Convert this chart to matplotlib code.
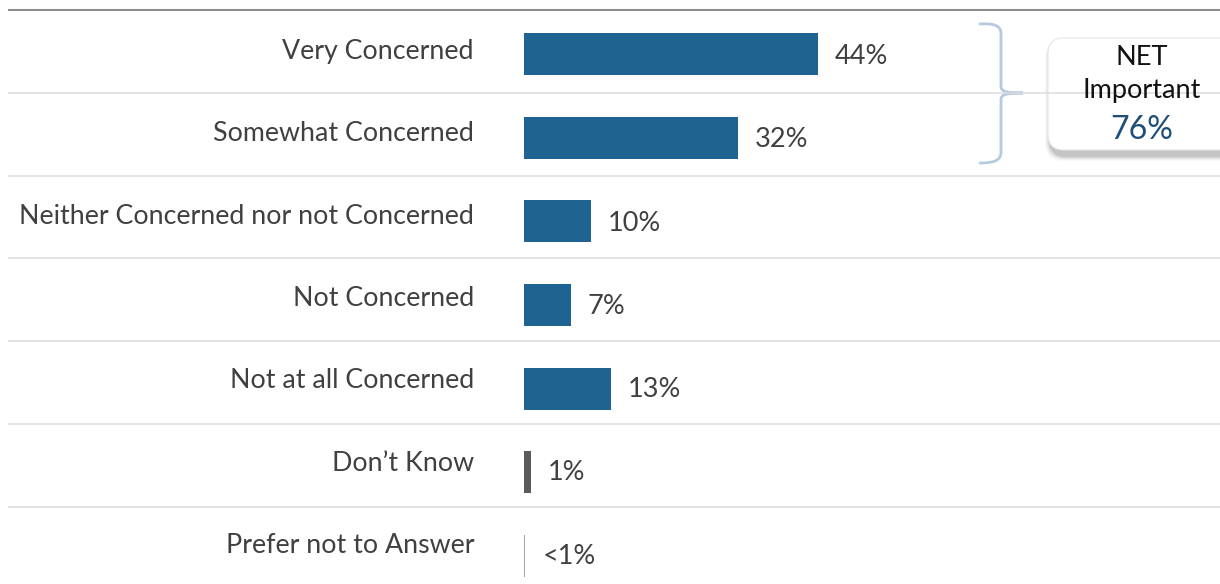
import matplotlib
matplotlib.use("Agg")
import matplotlib.pyplot as plt
from matplotlib.patches import FancyBboxPatch, PathPatch
from matplotlib.path import Path

# Survey responses and their shares (%)
categories = [
    "Very Concerned",
    "Somewhat Concerned",
    "Neither Concerned nor not Concerned",
    "Not Concerned",
    "Not at all Concerned",
    "Don\u2019t Know",
    "Prefer not to Answer",
]
values = [44, 32, 10, 7, 13, 1, 0.2]
value_labels = ["44%", "32%", "10%", "7%", "13%", "1%", "<1%"]
bar_colors = ["#1F6393"] * 5 + ["#5A5A5A", "#A6A6A6"]

net_title = ["NET", "Important"]
net_value = "76%"

plt.rcParams["font.family"] = ["Lato", "DejaVu Sans"]
TEXT = "#404040"

W, H = 1220, 584
PT = 0.72  # points per pixel at 100 dpi
fig = plt.figure(figsize=(W / 100, H / 100), dpi=100)
fig.patch.set_facecolor("white")

# Overlay axes in pixel units for rules, bracket and callout box
ov = fig.add_axes([0, 0, 1, 1])
ov.set_xlim(0, W)
ov.set_ylim(H, 0)
ov.axis("off")

# Main bar axes: zero at x=524 px, 6.68 px per percentage point
x0_px, px_per_pct = 524, 6.68
row0_px, row_px = 54, 83.67
ax = fig.add_axes([x0_px / W, 0, (W - x0_px) / W, 1])
ax.set_xlim(0, (W - x0_px) / px_per_pct)
ax.set_ylim((H - row0_px) / row_px, -row0_px / row_px)
ax.axis("off")
ax.patch.set_alpha(0)

ypos = list(range(len(categories)))
ax.barh(ypos, values, height=42 / row_px, color=bar_colors, edgecolor="none")

for y, v, lab, cat in zip(ypos, values, value_labels, categories):
    val_drop = 10.0 - 0.4 * y      # baseline below bar centre, px
    cat_drop = 5.0 - 1.33 * y
    ax.annotate(lab, xy=(v, y), xytext=(17 * PT, -val_drop * PT),
                textcoords="offset points", ha="left", va="baseline",
                fontsize=19.5, color=TEXT, annotation_clip=False)
    ax.annotate(cat, xy=(0, y), xytext=(-50 * PT, -cat_drop * PT),
                textcoords="offset points", ha="right", va="baseline",
                fontsize=19.3, color=TEXT, annotation_clip=False)

# Row rules
rule_top, rule_step = 10, 82.8
ov.plot([8, W], [rule_top, rule_top], color="#8C8C8C", lw=1.5, solid_capstyle="butt")
for k in range(1, 7):
    yk = rule_top + rule_step * k
    ov.plot([8, W], [yk, yk], color="#DCDCDC", lw=1.1, solid_capstyle="butt")

# Curly bracket grouping the top two rows
verts = [
    (980, 24), (995, 23), (1001, 26), (1001, 34),
    (1001, 86),
    (1001, 91), (1004, 93), (1023, 93),
    (1004, 93), (1001, 95), (1001, 100),
    (1001, 152),
    (1001, 160), (995, 163), (980, 163),
]
codes = [Path.MOVETO, Path.CURVE4, Path.CURVE4, Path.CURVE4,
         Path.LINETO,
         Path.CURVE4, Path.CURVE4, Path.CURVE4,
         Path.CURVE4, Path.CURVE4, Path.CURVE4,
         Path.LINETO,
         Path.CURVE4, Path.CURVE4, Path.CURVE4]
ov.add_patch(PathPatch(Path(verts, codes), facecolor="none",
                       edgecolor="#B3CAE0", lw=2.0, capstyle="round"))

# Callout box with soft shadow
bx, by, bw, bh = 1048, 38, 200, 112
for i, a in enumerate([0.04, 0.06, 0.09, 0.12, 0.16]):
    g = 5 - i
    ov.add_patch(FancyBboxPatch((bx + 2 - g, by + 6 - g), bw + 2 * g, bh + 2 * g,
                                boxstyle="round,pad=0,rounding_size=18",
                                facecolor="#6F6F6F", edgecolor="none", alpha=a))
ov.add_patch(FancyBboxPatch((bx, by), bw, bh,
                            boxstyle="round,pad=0,rounding_size=16",
                            facecolor="white", edgecolor="#E6E6E6", lw=0.8))
cx = 1142
ov.text(cx, 65, net_title[0], ha="center", va="baseline", fontsize=19.5, color="#111111")
ov.text(cx, 98, net_title[1], ha="center", va="baseline", fontsize=19.5, color="#111111")
ov.text(cx, 139, net_value, ha="center", va="baseline", fontsize=23, color="#1F4E79")

fig.savefig("out.png", dpi=100, facecolor="white")
